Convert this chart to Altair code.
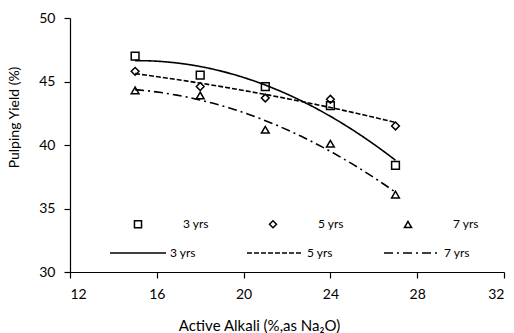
import altair as alt
import pandas as pd

alkali = [15, 18, 21, 24, 27]
yield_3 = [47.0, 45.5, 44.6, 43.1, 38.4]
yield_5 = [45.8, 44.6, 43.7, 43.6, 41.5]
yield_7 = [44.3, 43.9, 41.2, 40.1, 36.1]
series_names = ["3 yrs", "5 yrs", "7 yrs"]

rows = []
for name, vals in zip(series_names, [yield_3, yield_5, yield_7]):
    for a, v in zip(alkali, vals):
        rows.append({"alkali": a, "yield": v, "series": name})
df = pd.DataFrame(rows)

FONT = "Lato"

x_enc = alt.X("alkali:Q", scale=alt.Scale(domain=[12, 32], nice=False),
              axis=alt.Axis(values=[12, 16, 20, 24, 28, 32], title="Active Alkali (%,as Na₂O)",
                            grid=False, domainColor="black", tickColor="black", tickSize=6,
                            labelFontSize=14, titleFontSize=15, labelColor="black",
                            titleColor="black", titleFontWeight="normal", labelFont=FONT,
                            titleFont=FONT, labelPadding=9, domainWidth=1.2, tickWidth=1.2,
                            titleX=189, titleY=53, titleBaseline="middle", titleAlign="center"))
y_enc = alt.Y("yield:Q", scale=alt.Scale(domain=[30, 50], nice=False, zero=False),
              axis=alt.Axis(values=[30, 35, 40, 45, 50], title="Pulping Yield (%)",
                            grid=False, domainColor="black", tickColor="black", tickSize=6,
                            labelFontSize=14, titleFontSize=14, labelColor="black",
                            titleColor="black", titleFontWeight="normal", labelFont=FONT,
                            titleFont=FONT, labelPadding=9, domainWidth=1.2, tickWidth=1.2,
                            titleX=-56, titleY=99, titleBaseline="middle", titleAlign="center"))

base = alt.Chart(df)

points = base.mark_point(filled=False, color="black", strokeWidth=1.5, size=60, opacity=1).encode(
    x=x_enc, y=y_enc,
    shape=alt.Shape("series:N",
                    scale=alt.Scale(domain=series_names, range=["square", "diamond", "triangle-up"]),
                    legend=alt.Legend(orient="none", legendX=62, legendY=200, direction="horizontal",
                                      columns=3, title=None, columnPadding=57, labelOffset=39,
                                      labelFontSize=12, labelFont=FONT, labelColor="black",
                                      symbolStrokeColor="black", symbolStrokeWidth=1.5,
                                      symbolSize=50, symbolFillColor="white")),
)

lines = base.transform_regression(
    "alkali", "yield", method="poly", order=2, groupby=["series"], extent=[15, 27]
).transform_calculate(trend="datum.series").mark_line(color="black", strokeWidth=1.6).encode(
    x=alt.X("alkali:Q"), y=alt.Y("yield:Q"),
    strokeDash=alt.StrokeDash("trend:N",
                              scale=alt.Scale(domain=series_names, range=[[1, 0], [5, 2], [9, 4, 2, 4]]),
                              legend=alt.Legend(orient="none", legendX=39, legendY=206, direction="horizontal",
                                                columns=3, title=None, columnPadding=47, labelOffset=3,
                                                labelFontSize=12, labelFont=FONT, labelColor="black",
                                                symbolType="stroke", symbolSize=3136,
                                                symbolStrokeColor="black", symbolStrokeWidth=1.6)),
)

chart = alt.layer(points, lines).resolve_legend(shape="independent", strokeDash="independent").properties(
    width=434, height=254,
    autosize=alt.AutoSizeParams(type="none"),
    padding={"left": 70, "top": 18, "right": 10, "bottom": 61},
    background="white",
).configure_view(stroke=None)

chart.save("out.html", embed_options={"renderer": "svg", "actions": False})
